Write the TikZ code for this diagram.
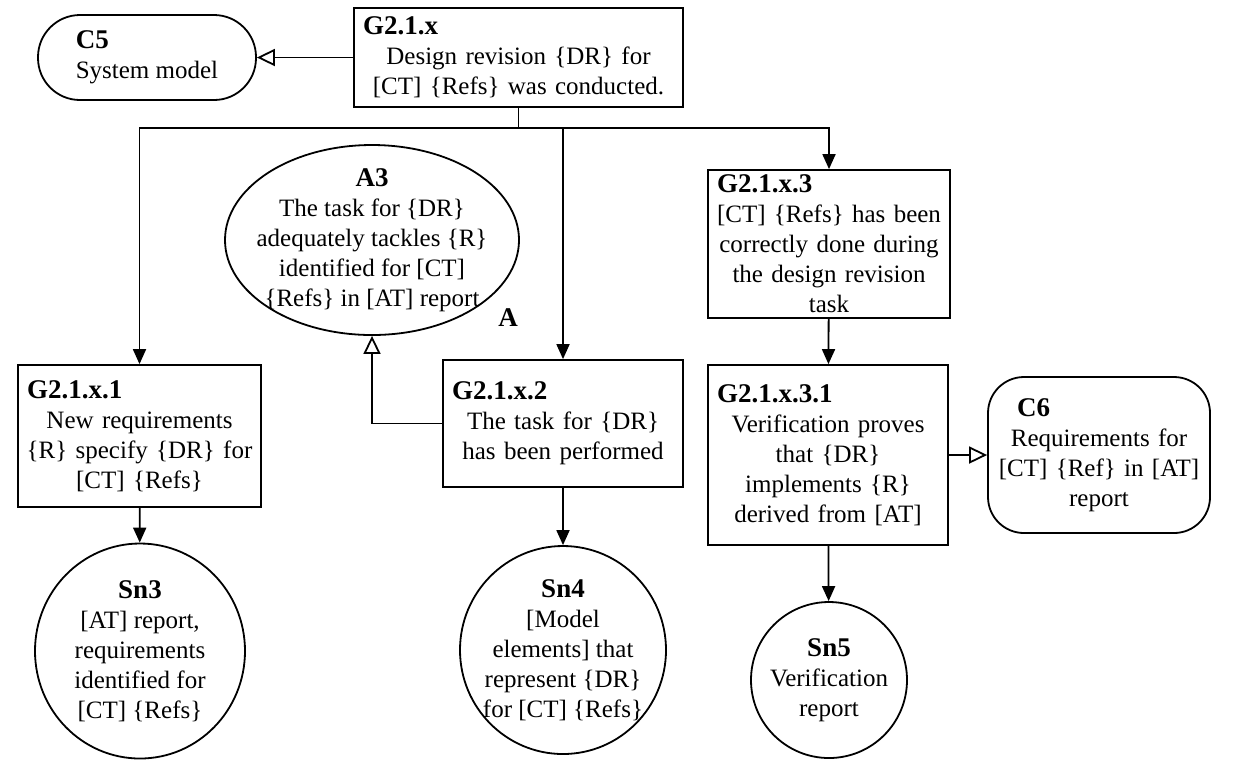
\documentclass[tikz,border=0pt]{standalone}
\usepackage{fontspec}
\setmainfont{Liberation Serif}
\usetikzlibrary{arrows.meta,shapes.geometric}
\newcommand{\gsnfont}{\fontsize{12.5}{15}\selectfont}
\newcommand{\gsnhead}[2][3.5pt]{\makebox[\linewidth][l]{\hspace*{#1}\fontsize{13.5}{15}\selectfont\textbf{#2}}\\{}}

\begin{document}
\begin{tikzpicture}[x=0.5pt,y=-0.5pt,>={Triangle[length=7.5pt,width=6.5pt]},
 goal/.style={draw,line width=0.9pt,rectangle,inner xsep=1pt,inner ysep=0pt,align=center,font=\gsnfont},
 context/.style={draw,line width=0.9pt,rectangle,inner xsep=1pt,inner ysep=0pt,font=\gsnfont},
 oval/.style={draw,line width=0.9pt,ellipse,inner sep=0pt},
 gsntext/.style={align=center,font=\gsnfont,inner sep=0pt},
 supported/.style={->,line width=0.9pt},
 incontext/.style={-{Triangle[open,length=9pt,width=8.5pt]},line width=0.9pt}]
\useasboundingbox (0,0) rectangle (1240,768);
% Top goal and its context.
\node[context,rounded corners=21pt,minimum width=109pt,minimum height=42.5pt,align=left]
 (c5) at (147,57.5) {{\fontsize{13.5}{15}\selectfont\textbf{C5}}\\System model};
\node[goal,minimum width=164.5pt,minimum height=49.5pt,text width=162.5pt]
 (gx) at (518.5,57.5) {\gsnhead{G2.1.x}Design revision \{DR\} for\\{}[CT] \{Refs\} was conducted.};
% Sub-goals.
\node[goal,minimum width=121.5pt,minimum height=71pt,text width=119.5pt]
 (g1) at (139.5,436) {\gsnhead{G2.1.x.1}New requirements\\\{R\} specify \{DR\} for\\{}[CT] \{Refs\}};
\node[goal,minimum width=120pt,minimum height=63.5pt,text width=118pt]
 (g2) at (563,423.5) {\gsnhead{G2.1.x.2}The task for \{DR\}\\has been performed};
\node[goal,minimum width=121pt,minimum height=74pt,text width=119pt]
 (g3) at (829,244) {\gsnhead{G2.1.x.3}[CT] \{Refs\} has been\\correctly done during\\the design revision\\task};
\node[goal,minimum width=120pt,minimum height=90pt,text width=118pt]
 (g31) at (828,455) {\gsnhead{G2.1.x.3.1}Verification proves\\that \{DR\}\\implements \{R\}\\derived from [AT]};
\node[context,rounded corners=18pt,minimum width=111pt,minimum height=78pt,text width=109pt,align=center]
 (c6) at (1099,455) {\gsnhead[13.5pt]{C6}Requirements for\\{}[CT] \{Ref\} in [AT]\\report};
% Assumption.
\node[oval,minimum width=147pt,minimum height=95pt] (a3) at (372,240) {};
\node[gsntext] (a3txt) at (a3) {{\fontsize{13.5}{15}\selectfont\textbf{A3}}\\The task for \{DR\}\\adequately tackles \{R\}\\identified for [CT]\\\{Refs\} in [AT] report};
\node[font=\fontsize{13.5}{15}\selectfont\bfseries,inner sep=0pt] (a3tag) at (508,318) {A};
% Solutions.
\node[oval,minimum width=105pt,minimum height=107.5pt] (sn3) at (140,651) {};
\node[gsntext] (sn3txt) at (sn3) {{\fontsize{13.5}{15}\selectfont\textbf{Sn3}}\\{}[AT] report,\\requirements\\identified for\\{}[CT] \{Refs\}};
\node[oval,minimum width=103pt,minimum height=104pt] (sn4) at (563,650) {};
\node[gsntext] (sn4txt) at (sn4) {{\fontsize{13.5}{15}\selectfont\textbf{Sn4}}\\{}[Model\\elements] that\\represent \{DR\}\\for [CT] \{Refs\}};
\node[oval,minimum width=78pt,minimum height=78pt] (sn5) at (829,680) {};
\node[gsntext] (sn5txt) at (sn5) {{\fontsize{13.5}{15}\selectfont\textbf{Sn5}}\\Verification\\report};
% Links.
\coordinate (bus) at (0,128);
\draw[line width=0.9pt] (gx.south) -- (gx.south |- bus);
\draw[supported] (gx.south |- bus) -| (g1.north);
\draw[supported] (gx.south |- bus) -| (g3.north);
\draw[supported] (g2.north |- bus) -- (g2.north);
\draw[supported] (g1) -- (sn3);
\draw[supported] (g2) -- (sn4);
\draw[supported] (g3) -- (g31);
\draw[supported] (g31) -- (sn5);
\draw[incontext] (gx) -- (c5);
\draw[incontext] (g31) -- (c6);
\draw[incontext] (g2.west) -| (a3.south);
\end{tikzpicture}
\end{document}
